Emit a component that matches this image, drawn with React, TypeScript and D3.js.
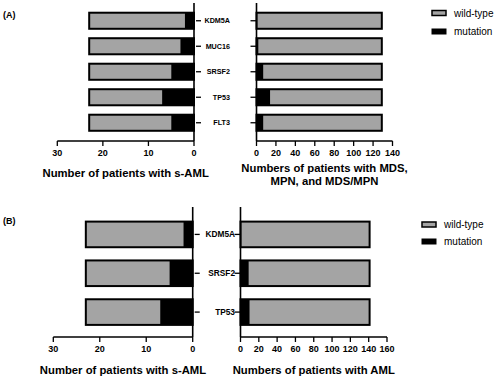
import React from "react";
import * as d3 from "d3";

const genesA = ["KDM5A", "MUC16", "SRSF2", "TP53", "FLT3"];
const sAmlMutA = [2, 3, 5, 7, 5];
const sAmlWildA = [21, 20, 18, 16, 18];
const mdsMutA = [0, 2, 7, 14, 7];
const mdsWildA = [129, 127, 122, 115, 122];

const genesB = ["KDM5A", "SRSF2", "TP53"];
const sAmlMutB = [2, 5, 7];
const sAmlWildB = [21, 18, 16];
const amlMutB = [0, 9, 10];
const amlWildB = [141, 132, 131];

const ticksSAml = [0, 10, 20, 30];
const ticksMds = [0, 20, 40, 60, 80, 100, 120, 140];
const ticksAml = [0, 20, 40, 60, 80, 100, 120, 140, 160];

const legendLabels = ["wild-type", "mutation"];

const GRAY = "#a4a4a4";
const FONT = "'Liberation Sans', Arial, Helvetica, sans-serif";

type PanelProps = {
  genes: string[];
  mut: number[];
  wild: number[];
  x: d3.ScaleLinear<number, number>;
  y: d3.ScaleBand<string>;
  axisX: number;
  axisTop: number;
  axisY: number;
  ticks: number[];
  side: "left" | "right";
  title: string[];
  titleY: number;
};

function Panel({ genes, mut, wild, x, y, axisX, axisTop, axisY, ticks, side, title, titleY }: PanelProps) {
  const [r0, r1] = x.range();
  const xmin = Math.min(r0, r1);
  const xmax = Math.max(r0, r1);
  const cx = (xmin + xmax) / 2;
  return (
    <g>
      {genes.map((g, i) => {
        const y0 = y(g)!;
        const h = y.bandwidth();
        const m = mut[i];
        const t = mut[i] + wild[i];
        const mx0 = Math.min(x(0), x(m));
        const mw = Math.abs(x(m) - x(0));
        const wx0 = Math.min(x(m), x(t));
        const ww = Math.abs(x(t) - x(m));
        const ox = Math.min(x(0), x(t));
        const ow = Math.abs(x(t) - x(0));
        return (
          <g key={g}>
            <rect x={wx0} y={y0} width={ww} height={h} fill={GRAY} />
            {m > 0 && <rect x={mx0} y={y0} width={mw} height={h} fill="#000" />}
            <rect x={ox} y={y0} width={ow} height={h} fill="none" stroke="#000" strokeWidth={2} />
            <line
              x1={side === "left" ? axisX + 2 : axisX - 6}
              x2={side === "left" ? axisX + 7 : axisX}
              y1={y0 + h / 2}
              y2={y0 + h / 2}
              stroke="#000"
              strokeWidth={1.3}
            />
          </g>
        );
      })}
      <line x1={axisX} x2={axisX} y1={axisTop} y2={axisY} stroke="#000" strokeWidth={1.6} />
      <line x1={xmin} x2={xmax} y1={axisY} y2={axisY} stroke="#000" strokeWidth={1.6} />
      {ticks.map((t) => (
        <g key={t}>
          <line x1={x(t)} x2={x(t)} y1={axisY} y2={axisY + 5} stroke="#000" strokeWidth={1.3} />
          <text
            x={x(t)}
            y={axisY + 12}
            textAnchor="middle"
            dominantBaseline="central"
            fontFamily={FONT}
            fontWeight="bold"
            fontSize={9}
          >
            {t}
          </text>
        </g>
      ))}
      {title.map((line, i) => (
        <text
          key={i}
          x={cx}
          y={titleY + i * 13}
          textAnchor="middle"
          dominantBaseline="central"
          fontFamily={FONT}
          fontWeight="bold"
          fontSize={11.3}
        >
          {line}
        </text>
      ))}
    </g>
  );
}

function Legend({ x, y, gap }: { x: number; y: number; gap: number }) {
  return (
    <g>
      {legendLabels.map((l, i) => (
        <g key={l}>
          {i === 0 ? (
            <rect x={x} y={y + i * gap - 2.5} width={14} height={5} fill={GRAY} stroke="#000" strokeWidth={1.5} />
          ) : (
            <rect x={x - 0.5} y={y + i * gap - 3} width={15} height={6} fill="#000" />
          )}
          <text x={x + 22} y={y + i * gap} dominantBaseline="central" fontFamily={FONT} fontSize={10}>
            {l}
          </text>
        </g>
      ))}
    </g>
  );
}

export default function App() {
  const yA = d3.scaleBand<string>().domain(genesA).range([8, 135.5]).paddingInner(0.37).paddingOuter(0.185);
  const yB = d3.scaleBand<string>().domain(genesB).range([215, 331.5]).paddingInner(0.34).paddingOuter(0.17);

  const xAL = d3.scaleLinear().domain([0, 30]).range([194, 57.3]);
  const xAR = d3.scaleLinear().domain([0, 140]).range([256.5, 392.5]);
  const xBL = d3.scaleLinear().domain([0, 30]).range([192.7, 53.3]);
  const xBR = d3.scaleLinear().domain([0, 160]).range([240.5, 387]);

  return (
    <svg width={500} height={380} style={{ position: "absolute", left: 0, top: 0, background: "#fff" }}>
      <rect width={500} height={380} fill="#fff" />
      <text x={3} y={15} dominantBaseline="central" fontFamily={FONT} fontWeight="bold" fontSize={9}>
        (A)
      </text>
      <text x={3} y={221} dominantBaseline="central" fontFamily={FONT} fontWeight="bold" fontSize={9}>
        (B)
      </text>

      <Panel
        genes={genesA}
        mut={sAmlMutA}
        wild={sAmlWildA}
        x={xAL}
        y={yA}
        axisX={194}
        axisTop={3}
        axisY={141}
        ticks={ticksSAml}
        side="left"
        title={["Number of patients with s-AML"]}
        titleY={173}
      />
      <Panel
        genes={genesA}
        mut={mdsMutA}
        wild={mdsWildA}
        x={xAR}
        y={yA}
        axisX={256.5}
        axisTop={3}
        axisY={141}
        ticks={ticksMds}
        side="right"
        title={["Numbers of patients with MDS,", "MPN, and MDS/MPN"]}
        titleY={168}
      />
      {genesA.map((g) => (
        <text
          key={g}
          x={230}
          y={yA(g)! + yA.bandwidth() / 2}
          textAnchor="end"
          dominantBaseline="central"
          fontFamily={FONT}
          fontWeight="bold"
          fontSize={7.2}
        >
          {g}
        </text>
      ))}
      <Legend x={432} y={13} gap={18.5} />

      <Panel
        genes={genesB}
        mut={sAmlMutB}
        wild={sAmlWildB}
        x={xBL}
        y={yB}
        axisX={192.7}
        axisTop={207}
        axisY={337}
        ticks={ticksSAml}
        side="left"
        title={["Number of patients with s-AML"]}
        titleY={370}
      />
      <Panel
        genes={genesB}
        mut={amlMutB}
        wild={amlWildB}
        x={xBR}
        y={yB}
        axisX={240.5}
        axisTop={207}
        axisY={337}
        ticks={ticksAml}
        side="right"
        title={["Numbers of patients with AML"]}
        titleY={370}
      />
      {genesB.map((g) => (
        <text
          key={g}
          x={235}
          y={yB(g)! + yB.bandwidth() / 2}
          textAnchor="end"
          dominantBaseline="central"
          fontFamily={FONT}
          fontWeight="bold"
          fontSize={8.3}
        >
          {g}
        </text>
      ))}
      <Legend x={422} y={224.5} gap={17} />
    </svg>
  );
}
